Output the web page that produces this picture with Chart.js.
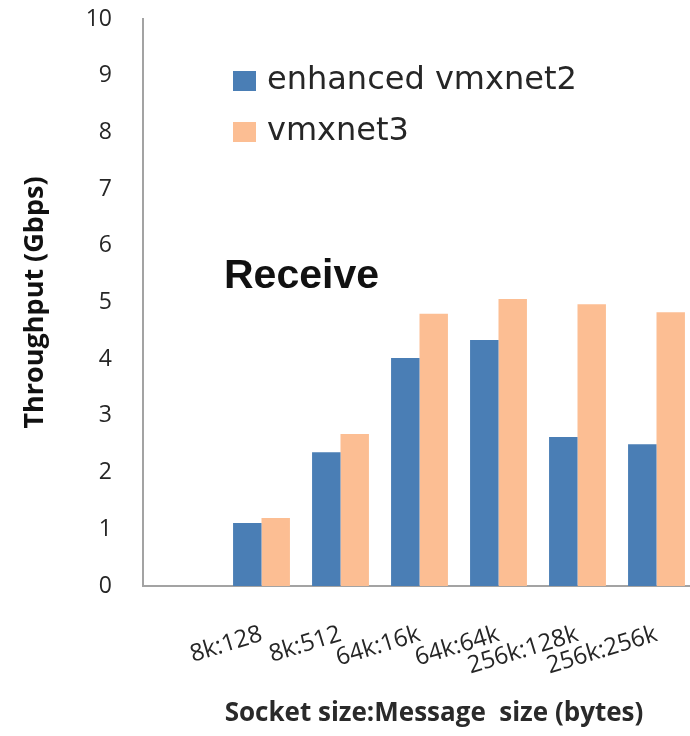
<!DOCTYPE html>
<html>
<head>
<meta charset="utf-8">
<script src="https://cdn.jsdelivr.net/npm/chart.js@4.4.1/dist/chart.umd.min.js"></script>
<style>
  html, body { margin: 0; padding: 0; background: #fff; overflow: hidden; }
  #wrap { width: 700px; height: 736px; }
</style>
</head>
<body>
<div id="wrap"><canvas id="receiveChart"></canvas></div>
<script>
// values (Gbps); first slot is an empty category
const categories = ['', '8k:128', '8k:512', '64k:16k', '64k:64k', '256k:128k', '256k:256k'];
const vmxnet2Values = [null, 1.11, 2.36, 4.02, 4.34, 2.63, 2.50];
const vmxnet3Values = [null, 1.20, 2.68, 4.80, 5.06, 4.97, 4.83];
const seriesNames = ['enhanced vmxnet2', 'vmxnet3'];
const seriesColors = ['#4a7eb5', '#fcbe93'];
const yMin = 0;
const yMax = 10;
const yStep = 1;

const textColor = '#262626';
const axisColor = '#a3a3a3';

// legend, "Receive" and the x title sit at fixed spots, so draw them by hand
const overlayPlugin = {
  id: 'overlay',
  afterDraw(chart) {
    const ctx = chart.ctx;
    ctx.save();
    ctx.font = '32px "DejaVu Sans"';
    ctx.textBaseline = 'middle';
    chart.data.datasets.forEach((ds, i) => {
      const y = 81 + i * 51;
      ctx.fillStyle = ds.backgroundColor;
      ctx.fillRect(233, y - 10, 23, 20);
      ctx.fillStyle = textColor;
      ctx.fillText(ds.label, 267, y);
    });

    ctx.font = 'bold 41px "Liberation Sans"';
    ctx.textBaseline = 'alphabetic';
    ctx.fillStyle = '#111';
    ctx.fillText('Receive', 224, 288);

    ctx.font = 'bold 26px "Open Sans"';
    ctx.textAlign = 'center';
    ctx.textBaseline = 'middle';
    ctx.fillStyle = '#2a2a2a';
    ctx.fillText('Socket size:Message  size (bytes)', 434, 714);
    ctx.restore();
  }
};

new Chart(document.getElementById('receiveChart'), {
  type: 'bar',
  data: {
    labels: categories,
    datasets: seriesNames.map((name, i) => ({
      label: name,
      data: [vmxnet2Values, vmxnet3Values][i],
      backgroundColor: seriesColors[i],
      borderWidth: 0,
      categoryPercentage: 0.72,
      barPercentage: 1.0,
    })),
  },
  options: {
    responsive: true,
    maintainAspectRatio: false,
    animation: false,
    layout: { padding: { top: 0, right: 4, left: 0, bottom: 0 } },
    plugins: {
      legend: { display: false },
      tooltip: { enabled: false },
    },
    scales: {
      x: {
        grid: { display: false, drawTicks: false },
        border: { display: true, color: axisColor, width: 2 },
        ticks: {
          autoSkip: false,
          minRotation: 17,
          maxRotation: 17,
          padding: 34,
          color: textColor,
          font: { family: 'Open Sans', size: 24 },
        },
        afterFit(scale) { scale.height = 150; },
      },
      y: {
        min: yMin,
        max: yMax,
        grid: { display: false, drawTicks: false },
        border: { display: true, color: axisColor, width: 2 },
        ticks: {
          stepSize: yStep,
          padding: 31,
          color: textColor,
          font: { family: 'Open Sans', size: 23 },
        },
        title: {
          display: true,
          text: 'Throughput (Gbps)',
          color: '#111',
          font: { family: 'Open Sans', size: 27, weight: 'bold' },
          padding: { top: 19, bottom: 0 },
        },
        afterFit(scale) {
          scale.width = 143;
          scale.paddingTop = 19;
          scale.paddingBottom = 0;
        },
      },
    },
  },
  plugins: [overlayPlugin],
});
</script>
</body>
</html>
